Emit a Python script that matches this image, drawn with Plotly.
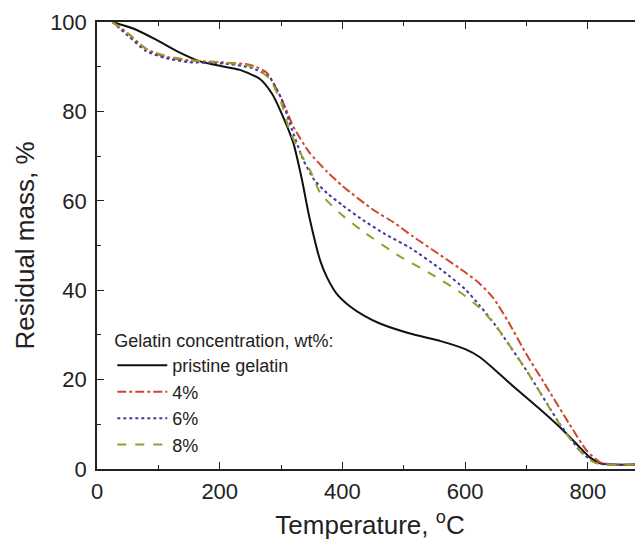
import plotly.graph_objects as go

# Temperature (degC) and residual mass (%)
t_pristine = [25, 60, 97, 130, 168, 200, 233, 266, 285, 300, 320, 334, 345, 364, 375, 390, 412,
              435, 460, 510, 560, 600, 624, 650, 680, 720, 754, 780, 803, 820, 840, 885]
m_pristine = [100, 98.5, 96, 93.5, 91.2, 90.2, 89.3, 87.2, 84, 79.8, 72.9, 64.7, 57, 46.5, 42.8, 39.3, 36.4,
              34.3, 32.6, 30.3, 28.6, 26.8, 25, 22, 18.3, 13.6, 9.4, 5.8, 2.6, 1.3, 1, 1]

t_4 = [25, 50, 80, 110, 150, 200, 250, 277, 300, 320, 345, 375, 400, 450, 483, 515, 560,
       600, 625, 646, 670, 700, 733, 770, 798, 820, 840, 885]
m_4 = [100, 97.5, 94, 92.3, 91.4, 91, 90.4, 88.6, 83, 76.6, 71, 66.5, 63.3, 58, 55.2, 52, 47.8,
       44, 41.3, 38.2, 33, 25.6, 18.3, 10, 4.1, 1.5, 1, 1]

t_6 = [25, 50, 80, 110, 150, 200, 250, 280, 300, 315, 336, 355, 375, 400, 430, 470, 510, 559,
       600, 624, 650, 700, 754, 787, 810, 830, 885]
m_6 = [100, 97, 93.5, 92, 91, 90.8, 89.8, 87.8, 83, 77, 69.2, 64.5, 61.7, 59, 56, 52.5, 49.5, 44.8,
       40.2, 36.5, 32, 22, 10.1, 4.1, 1.5, 1, 1]

t_8 = [25, 50, 80, 110, 150, 200, 250, 280, 300, 313, 330, 347, 364, 396, 430, 494, 540, 591,
       624, 650, 700, 754, 787, 810, 830, 885]
m_8 = [100, 97.5, 94, 92.5, 91.5, 91, 90.1, 87.5, 82, 76, 71, 66.9, 61.7, 57.2, 53.5, 47.5, 44, 39.6,
       36, 32, 22, 10, 4, 1.5, 1, 1]

names = ["pristine gelatin", "4%", "6%", "8%"]
colors = ["#111111", "#d2452c", "#3b3b9e", "#9c9a2a"]
dashes = ["solid", "dashdot", "dot", "dash"]

FONT = "Liberation Sans, Arial"
fig = go.Figure()
series = [(t_pristine, m_pristine), (t_4, m_4), (t_6, m_6), (t_8, m_8)]
for (xs, ys), n, c, d in zip(series, names, colors, dashes):
    fig.add_trace(go.Scatter(x=xs, y=ys, mode="lines", name=n,
                             line=dict(color=c, dash=d, width=2, shape="spline", smoothing=0.6)))

axis_common = dict(showline=True, linecolor="#222", linewidth=1.5, mirror="allticks",
                   ticks="inside", ticklen=7, tickwidth=1.2, tickcolor="#222",
                   showgrid=False, zeroline=False, automargin=False,
                   tickfont=dict(family=FONT, size=22, color="#222"))

fig.update_xaxes(range=[0, 889.7], tick0=0, dtick=200, ticklabelstandoff=2,
                 minor=dict(ticks="inside", ticklen=4, dtick=100, tickcolor="#222"),
                 title=dict(text="Temperature, <sup>o</sup>C",
                            font=dict(family=FONT, size=26, color="#222"),
                            standoff=13),
                 **axis_common)
fig.update_yaxes(range=[0, 100], tick0=0, dtick=20, ticklabelstandoff=4,
                 minor=dict(ticks="inside", ticklen=4, dtick=10, tickcolor="#222"),
                 title=dict(text="Residual mass, %",
                            font=dict(family=FONT, size=26, color="#222"),
                            standoff=8),
                 **axis_common)

fig.update_layout(
    width=635, height=532,
    margin=dict(l=89, r=0, t=14, b=71),
    plot_bgcolor="white", paper_bgcolor="white",
    showlegend=True,
    legend=dict(x=0.028, y=0.325, xanchor="left", yanchor="top",
                bgcolor="rgba(0,0,0,0)",
                title=dict(text="Gelatin concentration, wt%:",
                           font=dict(family=FONT, size=18, color="#222")),
                font=dict(family=FONT, size=18, color="#222"),
                tracegroupgap=0, itemwidth=50),
)

fig.write_html("out.html")
